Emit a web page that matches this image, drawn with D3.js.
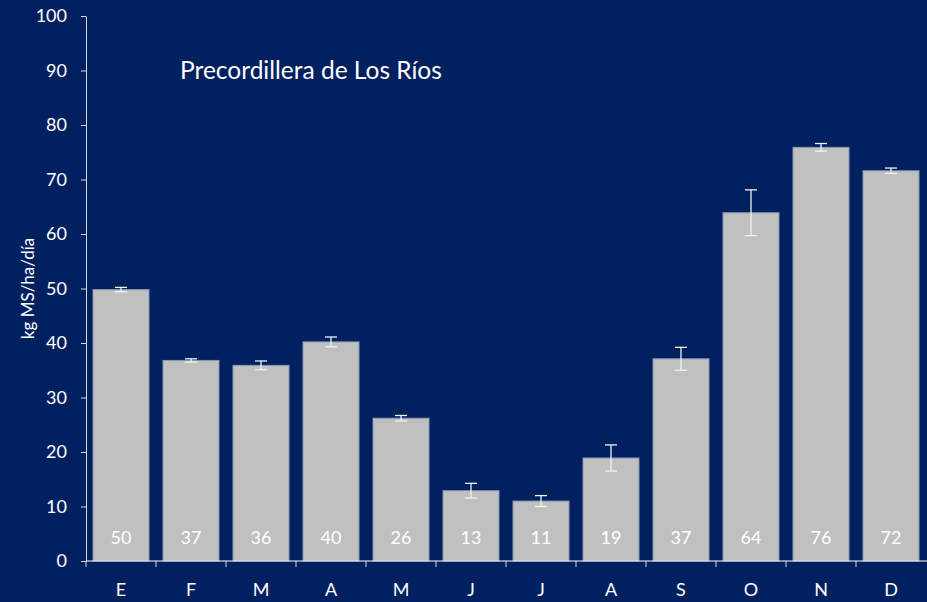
<!DOCTYPE html>
<meta charset="utf-8">
<script src="https://d3js.org/d3.v7.min.js"></script>
<style>
  body { margin: 0; background: #002060; }
  text { font-family: Lato, "Liberation Sans", sans-serif; }
</style>
<div id="my_dataviz"></div>
<script>

// months and mean growth (kg MS/ha/día) with error
var months = ["E", "F", "M", "A", "M", "J", "J", "A", "S", "O", "N", "D"];
var values = [49.8, 36.8, 35.9, 40.2, 26.2, 12.9, 11.0, 18.9, 37.1, 63.9, 75.9, 71.6];
var errors = [0.4, 0.3, 0.8, 0.9, 0.5, 1.35, 1.0, 2.4, 2.1, 4.2, 0.7, 0.5];
var yTicks = [0, 10, 20, 30, 40, 50, 60, 70, 80, 90, 100];

var width = 927,
    height = 602,
    margin = {top: 16, right: 1, bottom: 41, left: 86};

var svg = d3.select("#my_dataviz")
  .append("svg")
  .attr("width", width)
  .attr("height", height);

svg.append("rect")
  .attr("width", width)
  .attr("height", height)
  .attr("fill", "#002060");

var x = d3.scaleBand()
  .domain(d3.range(months.length))
  .range([margin.left, width - margin.right])
  .paddingInner(0.2)
  .paddingOuter(0.1);

var y = d3.scaleLinear()
  .domain([0, 100])
  .range([height - margin.bottom, margin.top]);

// bars
svg.selectAll(".bar")
  .data(values)
  .enter()
  .append("rect")
  .attr("class", "bar")
  .attr("x", function(d, i) { return x(i); })
  .attr("y", function(d) { return y(d); })
  .attr("width", x.bandwidth())
  .attr("height", function(d) { return y(0) - y(d); })
  .attr("fill", "#c0c0c0")
  .attr("stroke", "#8a96ad")
  .attr("stroke-width", 1);

// error bars
var err = svg.selectAll(".err")
  .data(values)
  .enter()
  .append("g")
  .attr("class", "err")
  .attr("stroke", "#f2f2f2")
  .attr("stroke-width", 1.3);

err.append("line")
  .attr("x1", function(d, i) { return x(i) + x.bandwidth() / 2; })
  .attr("x2", function(d, i) { return x(i) + x.bandwidth() / 2; })
  .attr("y1", function(d, i) { return y(d + errors[i]); })
  .attr("y2", function(d, i) { return y(d - errors[i]); });

[1, -1].forEach(function(s) {
  err.append("line")
    .attr("x1", function(d, i) { return x(i) + x.bandwidth() / 2 - 6; })
    .attr("x2", function(d, i) { return x(i) + x.bandwidth() / 2 + 6; })
    .attr("y1", function(d, i) { return y(d + s * errors[i]); })
    .attr("y2", function(d, i) { return y(d + s * errors[i]); });
});

// value labels inside bars
svg.selectAll(".lbl")
  .data(values)
  .enter()
  .append("text")
  .attr("class", "lbl")
  .attr("x", function(d, i) { return x(i) + x.bandwidth() / 2; })
  .attr("y", 544)
  .attr("text-anchor", "middle")
  .attr("fill", "#ffffff")
  .style("font-size", "18px")
  .text(function(d) { return Math.round(d); });

// y axis
var yAxis = svg.append("g")
  .attr("transform", "translate(" + margin.left + ",0)")
  .call(d3.axisLeft(y).tickValues(yTicks).tickSize(5).tickSizeOuter(0).tickPadding(14));
yAxis.selectAll("path, line").attr("stroke", "#d9d9d9");
yAxis.selectAll("text").attr("fill", "#ffffff").style("font-size", "18px");

// x axis, ticks at band boundaries
var xAxis = svg.append("g")
  .attr("transform", "translate(0," + y(0) + ")");
xAxis.append("line")
  .attr("x1", margin.left)
  .attr("x2", width)
  .attr("stroke", "#ffffff");
xAxis.selectAll(".tk")
  .data(d3.range(months.length))
  .enter()
  .append("line")
  .attr("x1", function(i) { return x(i) - x.step() * 0.1; })
  .attr("x2", function(i) { return x(i) - x.step() * 0.1; })
  .attr("y1", 0)
  .attr("y2", 6)
  .attr("stroke", "#d9d9d9");
xAxis.selectAll(".xl")
  .data(months)
  .enter()
  .append("text")
  .attr("x", function(d, i) { return x(i) + x.bandwidth() / 2; })
  .attr("y", 35)
  .attr("text-anchor", "middle")
  .attr("fill", "#ffffff")
  .style("font-size", "18px")
  .text(function(d) { return d; });

// title
svg.append("text")
  .attr("x", 180)
  .attr("y", 79)
  .attr("fill", "#ffffff")
  .style("font-size", "24.5px")
  .text("Precordillera de Los Ríos");

// y label
svg.append("text")
  .attr("transform", "translate(34," + y(50) + ") rotate(-90)")
  .attr("text-anchor", "middle")
  .attr("fill", "#ffffff")
  .style("font-size", "17px")
  .text("kg MS/ha/día");

</script>
